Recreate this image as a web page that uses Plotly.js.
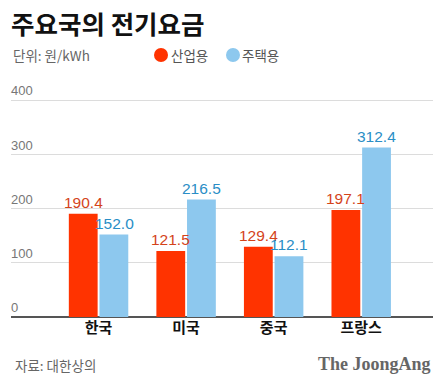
<!DOCTYPE html>
<html>
<head>
<meta charset="utf-8">
<script src="https://cdn.plot.ly/plotly-3.0.1.min.js"></script>
<style>
html,body{margin:0;padding:0;background:#fff;}
#chart{width:445px;height:376px;}
</style>
</head>
<body>
<div id="chart"></div>
<script>
const categories = ['한국', '미국', '중국', '프랑스'];
const seriesNames = ['산업용', '주택용'];
const industrial = [190.4, 121.5, 129.4, 197.1];
const residential = [152.0, 216.5, 112.1, 312.4];
const yTicks = [0, 100, 200, 300, 400];

const RED = '#FF3300', BLUE = '#8DC8EE';
const RED_TXT = '#D4431A', BLUE_TXT = '#2A8EC6';
const KR = 'Noto Sans CJK KR, Noto Sans, sans-serif';
const NUM = 'Liberation Sans, Arial, sans-serif';

const PT = 70, PB = 317, PH = PB - PT;  // plot top / bottom in px
const yMax = 400 * PH / 217;
const OFF = 15.5; // half of a grouped bar slot, px

const traces = [
  {type:'bar', name:seriesNames[0], x:categories, y:industrial, marker:{color:RED}, hoverinfo:'skip'},
  {type:'bar', name:seriesNames[1], x:categories, y:residential, marker:{color:BLUE}, hoverinfo:'skip'}
];

const valueLabels = [];
categories.forEach((c, i) => {
  valueLabels.push({x:c, y:industrial[i], xref:'x', yref:'y', text:industrial[i].toFixed(1),
    xshift:-OFF, yshift:1, yanchor:'bottom', xanchor:'center', showarrow:false,
    font:{family:NUM, size:15.5, color:RED_TXT}});
  valueLabels.push({x:c, y:residential[i], xref:'x', yref:'y', text:residential[i].toFixed(1),
    xshift:OFF, yshift:1, yanchor:'bottom', xanchor:'center', showarrow:false,
    font:{family:NUM, size:15.5, color:BLUE_TXT}});
});

const layout = {
  width:445, height:376,
  margin:{l:11, r:12, t:PT, b:376-PB},
  paper_bgcolor:'#fff', plot_bgcolor:'#fff',
  showlegend:false,
  barmode:'group', bargap:0.3, bargroupgap:0.06,
  font:{family:KR},
  xaxis:{type:'category', range:[-1.0, 3.82], showgrid:false, zeroline:false,
    showline:false, ticks:'', tickfont:{family:KR, size:15, color:'#111', weight:'bold'},
    fixedrange:true},
  yaxis:{range:[0, yMax], tickvals:yTicks, ticktext:yTicks.map(String),
    ticklabelposition:'inside top', ticklabelstandoff:-3,
    tickfont:{family:NUM, size:13, color:'#777'},
    showgrid:true, gridcolor:'#dcdcdc', gridwidth:1,
    zeroline:true, zerolinecolor:'#555', zerolinewidth:1.5,
    showline:false, ticks:'', fixedrange:true},
  annotations:valueLabels.concat([
    {xref:'paper', yref:'paper', x:-0.004, y:1.0, xanchor:'left', yanchor:'middle', showarrow:false,
     yshift:PT-22, text:'<b>주요국의 전기요금</b>', font:{family:KR, size:25.5, color:'#111'}},
    {xref:'paper', yref:'paper', x:0, y:1.0, xanchor:'left', yanchor:'middle', showarrow:false,
     yshift:PT-55, text:'단위: 원/kWh', font:{family:KR, size:13.5, color:'#666'}},
    {xref:'paper', yref:'paper', x:(169-11)/422, y:1.0, xanchor:'left', yanchor:'middle', showarrow:false,
     yshift:PT-55, text:seriesNames[0], font:{family:KR, size:13.5, color:'#555'}},
    {xref:'paper', yref:'paper', x:(240-11)/422, y:1.0, xanchor:'left', yanchor:'middle', showarrow:false,
     yshift:PT-55, text:seriesNames[1], font:{family:KR, size:13.5, color:'#555'}},
    {xref:'paper', yref:'paper', x:(13-11)/422, y:0, xanchor:'left', yanchor:'middle', showarrow:false,
     yshift:-48, text:'자료: 대한상의', font:{family:KR, size:13.5, color:'#666'}},
    {xref:'paper', yref:'paper', x:1.0, y:0, xanchor:'right', yanchor:'middle', showarrow:false,
     yshift:-47, text:'<b>The JoongAng</b>', font:{family:'Liberation Serif, DejaVu Serif, serif', size:18, color:'#666'}}
  ]),
  shapes:[
    {type:'circle', xref:'paper', yref:'paper', x0:(154-11)/422, x1:(168-11)/422,
     y0:(PB-62)/PH, y1:(PB-48)/PH, fillcolor:RED, line:{width:0}},
    {type:'circle', xref:'paper', yref:'paper', x0:(226-11)/422, x1:(240-11)/422,
     y0:(PB-62)/PH, y1:(PB-48)/PH, fillcolor:BLUE, line:{width:0}}
  ]
};

Plotly.newPlot('chart', traces, layout, {displayModeBar:false, staticPlot:true});
</script>
</body>
</html>
